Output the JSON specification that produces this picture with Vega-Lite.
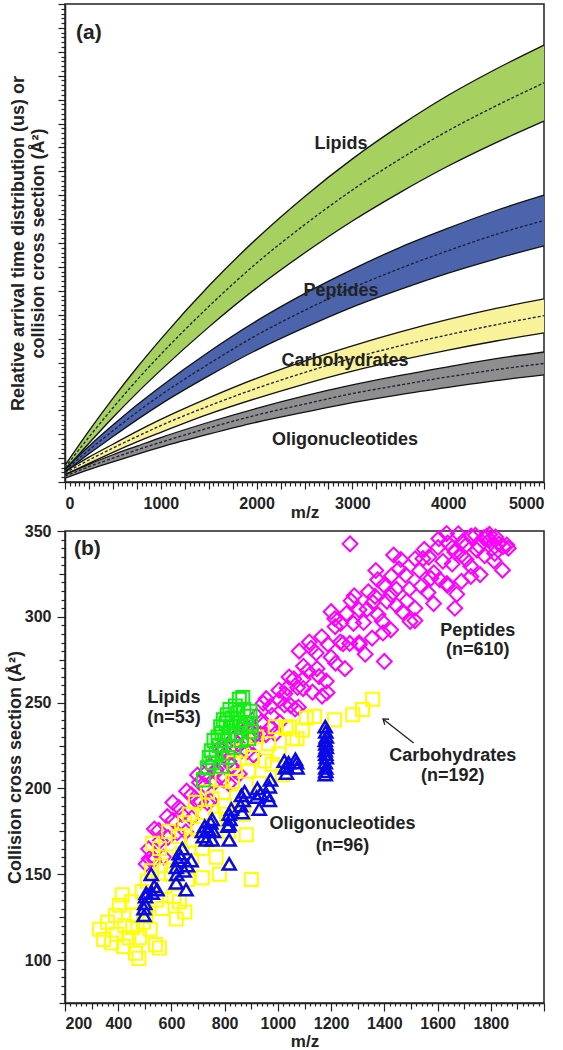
{
  "$schema": "https://vega.github.io/schema/vega-lite/v6.json",
  "padding": {"left": 5, "top": 2, "right": 0, "bottom": 0},
  "spacing": 0,
  "config": {
    "view": {"stroke": "#222", "strokeWidth": 1.5},
    "font": "Liberation Sans",
    "axis": {"domainColor": "#222", "domainWidth": 1.5, "tickColor": "#222", "tickWidth": 1.2, "labelFont": "Liberation Sans", "labelFontWeight": "bold", "labelFontSize": 16, "labelColor": "#222", "titleFont": "Liberation Sans", "titleFontWeight": "bold", "titleFontSize": 17, "titleColor": "#222", "grid": false, "labelOverlap": false, "labelBound": false}
  },
  "datasets": {
    "bands": [
      {"group": "Lipids", "mz": 0, "hi": 3.5, "mid": 3.0, "lo": 2.5},
      {"group": "Lipids", "mz": 250, "hi": 10.7, "mid": 9.4, "lo": 8.1},
      {"group": "Lipids", "mz": 500, "hi": 17.5, "mid": 15.5, "lo": 13.5},
      {"group": "Lipids", "mz": 750, "hi": 23.9, "mid": 21.3, "lo": 18.6},
      {"group": "Lipids", "mz": 1000, "hi": 29.9, "mid": 26.7, "lo": 23.4},
      {"group": "Lipids", "mz": 1500, "hi": 41.0, "mid": 36.7, "lo": 32.4},
      {"group": "Lipids", "mz": 2000, "hi": 50.9, "mid": 45.8, "lo": 40.6},
      {"group": "Lipids", "mz": 2500, "hi": 59.7, "mid": 53.8, "lo": 47.9},
      {"group": "Lipids", "mz": 3000, "hi": 67.6, "mid": 61.1, "lo": 54.6},
      {"group": "Lipids", "mz": 3500, "hi": 74.6, "mid": 67.6, "lo": 60.6},
      {"group": "Lipids", "mz": 4000, "hi": 80.9, "mid": 73.5, "lo": 66.1},
      {"group": "Lipids", "mz": 4500, "hi": 86.4, "mid": 78.7, "lo": 71.0},
      {"group": "Lipids", "mz": 5000, "hi": 91.4, "mid": 83.5, "lo": 75.5},
      {"group": "Peptides", "mz": 0, "hi": 2.8, "mid": 2.4, "lo": 2.0},
      {"group": "Peptides", "mz": 250, "hi": 7.5, "mid": 6.7, "lo": 5.9},
      {"group": "Peptides", "mz": 500, "hi": 11.9, "mid": 10.7, "lo": 9.5},
      {"group": "Peptides", "mz": 750, "hi": 16.1, "mid": 14.6, "lo": 13.0},
      {"group": "Peptides", "mz": 1000, "hi": 20.0, "mid": 18.2, "lo": 16.3},
      {"group": "Peptides", "mz": 1500, "hi": 27.2, "mid": 24.7, "lo": 22.2},
      {"group": "Peptides", "mz": 2000, "hi": 33.7, "mid": 30.7, "lo": 27.6},
      {"group": "Peptides", "mz": 2500, "hi": 39.4, "mid": 35.9, "lo": 32.3},
      {"group": "Peptides", "mz": 3000, "hi": 44.5, "mid": 40.6, "lo": 36.6},
      {"group": "Peptides", "mz": 3500, "hi": 49.1, "mid": 44.7, "lo": 40.3},
      {"group": "Peptides", "mz": 4000, "hi": 53.1, "mid": 48.4, "lo": 43.7},
      {"group": "Peptides", "mz": 4500, "hi": 56.8, "mid": 51.8, "lo": 46.7},
      {"group": "Peptides", "mz": 5000, "hi": 60.0, "mid": 54.7, "lo": 49.4},
      {"group": "Carbohydrates", "mz": 0, "hi": 2.2, "mid": 1.9, "lo": 1.5},
      {"group": "Carbohydrates", "mz": 250, "hi": 5.2, "mid": 4.6, "lo": 3.9},
      {"group": "Carbohydrates", "mz": 500, "hi": 7.9, "mid": 7.1, "lo": 6.2},
      {"group": "Carbohydrates", "mz": 750, "hi": 10.6, "mid": 9.5, "lo": 8.4},
      {"group": "Carbohydrates", "mz": 1000, "hi": 13.1, "mid": 11.8, "lo": 10.4},
      {"group": "Carbohydrates", "mz": 1500, "hi": 17.6, "mid": 15.9, "lo": 14.2},
      {"group": "Carbohydrates", "mz": 2000, "hi": 21.7, "mid": 19.6, "lo": 17.5},
      {"group": "Carbohydrates", "mz": 2500, "hi": 25.3, "mid": 22.9, "lo": 20.5},
      {"group": "Carbohydrates", "mz": 3000, "hi": 28.5, "mid": 25.9, "lo": 23.2},
      {"group": "Carbohydrates", "mz": 3500, "hi": 31.4, "mid": 28.5, "lo": 25.5},
      {"group": "Carbohydrates", "mz": 4000, "hi": 34.0, "mid": 30.8, "lo": 27.6},
      {"group": "Carbohydrates", "mz": 4500, "hi": 36.3, "mid": 32.9, "lo": 29.5},
      {"group": "Carbohydrates", "mz": 5000, "hi": 38.3, "mid": 34.8, "lo": 31.2},
      {"group": "Oligonucleotides", "mz": 0, "hi": 1.6, "mid": 1.2, "lo": 0.8},
      {"group": "Oligonucleotides", "mz": 250, "hi": 3.7, "mid": 3.2, "lo": 2.6},
      {"group": "Oligonucleotides", "mz": 500, "hi": 5.7, "mid": 5.0, "lo": 4.2},
      {"group": "Oligonucleotides", "mz": 750, "hi": 7.5, "mid": 6.7, "lo": 5.8},
      {"group": "Oligonucleotides", "mz": 1000, "hi": 9.3, "mid": 8.3, "lo": 7.3},
      {"group": "Oligonucleotides", "mz": 1500, "hi": 12.5, "mid": 11.3, "lo": 10.0},
      {"group": "Oligonucleotides", "mz": 2000, "hi": 15.4, "mid": 14.0, "lo": 12.5},
      {"group": "Oligonucleotides", "mz": 2500, "hi": 18.0, "mid": 16.3, "lo": 14.6},
      {"group": "Oligonucleotides", "mz": 3000, "hi": 20.3, "mid": 18.5, "lo": 16.6},
      {"group": "Oligonucleotides", "mz": 3500, "hi": 22.3, "mid": 20.3, "lo": 18.3},
      {"group": "Oligonucleotides", "mz": 4000, "hi": 24.1, "mid": 22.0, "lo": 19.8},
      {"group": "Oligonucleotides", "mz": 4500, "hi": 25.8, "mid": 23.5, "lo": 21.2},
      {"group": "Oligonucleotides", "mz": 5000, "hi": 27.2, "mid": 24.8, "lo": 22.4}
    ],
    "aLab": [
      {"t": "Lipids", "mz": 2881, "v": 70.7},
      {"t": "Peptides", "mz": 2881, "v": 40.0},
      {"t": "Carbohydrates", "mz": 2923, "v": 25.3},
      {"t": "Oligonucleotides", "mz": 2923, "v": 8.8}
    ],
    "aTag": [{"t": "(a)", "mz": 115, "v": 93.9}],
    "bTag": [{"t": "(b)", "mz": 234, "ccs": 339.5}],
    "bLab": [
      {"t": "Lipids", "mz": 610, "ccs": 252.7},
      {"t": "(n=53)", "mz": 610, "ccs": 241.0},
      {"t": "Peptides", "mz": 1751, "ccs": 291.7},
      {"t": "(n=610)", "mz": 1751, "ccs": 280.7},
      {"t": "Carbohydrates", "mz": 1657, "ccs": 218.9},
      {"t": "(n=192)", "mz": 1657, "ccs": 207.3},
      {"t": "Oligonucleotides", "mz": 1243, "ccs": 179.3},
      {"t": "(n=96)", "mz": 1243, "ccs": 166.5}
    ],
    "arrow": [{"x1": 1510, "y1": 226.5, "x2": 1395, "y2": 240.5}],
    "pep": [
      {"mz":505,"ccs":156},{"mz":514,"ccs":164.8},{"mz":517,"ccs":159.0},{"mz":536,"ccs":176.4},{"mz":535,"ccs":158.6},{"mz":552,"ccs":175.6},{"mz":558,"ccs":169.6},{"mz":570,"ccs":160},{"mz":584,"ccs":183.6},{"mz":587,"ccs":171.4},
      {"mz":606,"ccs":181.5},{"mz":605,"ccs":191.8},{"mz":622,"ccs":174.2},{"mz":628,"ccs":188.9},{"mz":640,"ccs":184.8},{"mz":654,"ccs":174.7},{"mz":657,"ccs":198.4},{"mz":676,"ccs":182.8},{"mz":675,"ccs":196.3},{"mz":692,"ccs":193.1},
      {"mz":698,"ccs":207.8},{"mz":710,"ccs":192.3},{"mz":724,"ccs":208.3},{"mz":727,"ccs":201.6},{"mz":746,"ccs":192.8},{"mz":745,"ccs":213.5},{"mz":762,"ccs":203.5},{"mz":768,"ccs":211.0},{"mz":780,"ccs":223.4},{"mz":794,"ccs":205},
      {"mz":797,"ccs":219.1},{"mz":816,"ccs":215.8},{"mz":815,"ccs":202.8},{"mz":832,"ccs":228.7},{"mz":838,"ccs":210.5},{"mz":850,"ccs":226},{"mz":864,"ccs":221.8},{"mz":867,"ccs":235.9},{"mz":886,"ccs":221.4},{"mz":885,"ccs":234.8},
      {"mz":902,"ccs":230.3},{"mz":908,"ccs":219.4},{"mz":920,"ccs":242.2},{"mz":934,"ccs":231.8},{"mz":937,"ccs":238.7},{"mz":956,"ccs":252.3},{"mz":955,"ccs":231.4},{"mz":972,"ccs":247.8},{"mz":978,"ccs":242.5},{"mz":990,"ccs":231.7},
      {"mz":1004,"ccs":257.2},{"mz":1007,"ccs":238.5},{"mz":1026,"ccs":255.2},{"mz":1025,"ccs":248.6},{"mz":1042,"ccs":264.9},{"mz":1048,"ccs":248.3},{"mz":1060,"ccs":263.8},{"mz":1074,"ccs":258.8},{"mz":1077,"ccs":247.3},{"mz":1096,"ccs":271.2},
      {"mz":1095,"ccs":258.2},{"mz":1112,"ccs":268.6},{"mz":1118,"ccs":285.3},{"mz":1130,"ccs":256.1},{"mz":1144,"ccs":278.9},{"mz":1147,"ccs":269.8},{"mz":1166,"ccs":253.8},{"mz":1165,"ccs":288.4},{"mz":1182,"ccs":262.5},{"mz":1188,"ccs":284},
      {"mz":1200,"ccs":276.4},{"mz":1214,"ccs":298.9},{"mz":1217,"ccs":273},{"mz":1236,"ccs":296.2},{"mz":1235,"ccs":285.3},{"mz":1252,"ccs":269.8},{"mz":1258,"ccs":301.9},{"mz":1270,"ccs":284.5},{"mz":1284,"ccs":296.2},{"mz":1287,"ccs":312.3},
      {"mz":1306,"ccs":283.8},{"mz":1305,"ccs":304.1},{"mz":1322,"ccs":296.7},{"mz":1328,"ccs":278.2},{"mz":1340,"ccs":314.6},{"mz":1354,"ccs":287.6},{"mz":1357,"ccs":308.4},{"mz":1376,"ccs":301.3},{"mz":1375,"ccs":321.6},{"mz":1392,"ccs":297.4},
      {"mz":1398,"ccs":318.5},{"mz":1410,"ccs":309},{"mz":1424,"ccs":292.4},{"mz":1427,"ccs":323.9},{"mz":1446,"ccs":306.6},{"mz":1445,"ccs":316.1},{"mz":1462,"ccs":333.4},{"mz":1468,"ccs":302.8},{"mz":1480,"ccs":324.4},{"mz":1494,"ccs":316.2},
      {"mz":1497,"ccs":297.3},{"mz":1516,"ccs":333.8},{"mz":1515,"ccs":305},{"mz":1532,"ccs":326.9},{"mz":1538,"ccs":317.8},{"mz":1550,"ccs":339.3},{"mz":1564,"ccs":314.2},{"mz":1567,"ccs":334.8},{"mz":1586,"ccs":325.7},{"mz":1585,"ccs":307.7},
      {"mz":1602,"ccs":340.4},{"mz":1608,"ccs":321.7},{"mz":1620,"ccs":332.4},{"mz":1634,"ccs":348.5},{"mz":1637,"ccs":318.3},{"mz":1656,"ccs":340.4},{"mz":1655,"ccs":330.8},{"mz":1672,"ccs":313.1},{"mz":1678,"ccs":348.4},{"mz":1690,"ccs":320.7},
      {"mz":1704,"ccs":341.2},{"mz":1707,"ccs":333.4},{"mz":1726,"ccs":347},{"mz":1725,"ccs":329.5},{"mz":1742,"ccs":347.5},{"mz":1748,"ccs":338.9},{"mz":1760,"ccs":324.6},{"mz":1774,"ccs":346},{"mz":1777,"ccs":335.6},{"mz":1796,"ccs":344.8},
      {"mz":1795,"ccs":348},{"mz":1812,"ccs":332.6},{"mz":1818,"ccs":346.5},{"mz":1830,"ccs":342.5},{"mz":1844,"ccs":327.2},{"mz":1847,"ccs":341},{"mz":1866,"ccs":340},
      {"mz":1271,"ccs":342.5},{"mz":1665,"ccs":305},{"mz":1400,"ccs":274},{"mz":1080,"ccs":280},{"mz":1200,"ccs":303},{"mz":1435,"ccs":336},{"mz":1368,"ccs":327},{"mz":1691,"ccs":336},{"mz":1638,"ccs":343},{"mz":1815,"ccs":341},{"mz":1860,"ccs":341.8},
      {"mz":705,"ccs":203.5},{"mz":735,"ccs":191.7},{"mz":765,"ccs":209.6},{"mz":795,"ccs":222.8},{"mz":825,"ccs":213.2},{"mz":855,"ccs":208.4},{"mz":885,"ccs":235.6},{"mz":915,"ccs":231},{"mz":945,"ccs":249.7},{"mz":975,"ccs":235.6},
      {"mz":1005,"ccs":251.6},{"mz":1035,"ccs":258.6},{"mz":1065,"ccs":246.3},{"mz":1095,"ccs":263.8},{"mz":1125,"ccs":281.7},{"mz":1155,"ccs":265.2},{"mz":1185,"ccs":255.9},{"mz":1215,"ccs":294.3},{"mz":1245,"ccs":284.4},{"mz":1275,"ccs":309.3},
      {"mz":1305,"ccs":284.9},{"mz":1335,"ccs":304.4},{"mz":1365,"ccs":311.9},{"mz":1395,"ccs":290.6},{"mz":1425,"ccs":312.9},{"mz":1455,"ccs":327.9},{"mz":1485,"ccs":309.3},{"mz":1515,"ccs":297.8},{"mz":1545,"ccs":333.9},{"mz":1575,"ccs":322.4},
      {"mz":1605,"ccs":345.5},{"mz":1635,"ccs":319.4},{"mz":1665,"ccs":337.7},{"mz":1695,"ccs":344},{"mz":1725,"ccs":323.5},{"mz":1755,"ccs":341.3},{"mz":1785,"ccs":347},{"mz":1815,"ccs":336.9}
    ],
    "carb": [
      {"mz":330,"ccs":118},{"mz":345,"ccs":112},{"mz":360,"ccs":122},{"mz":375,"ccs":110},{"mz":390,"ccs":126},{"mz":395,"ccs":115},{"mz":405,"ccs":132},{"mz":415,"ccs":138},{"mz":420,"ccs":108},{"mz":425,"ccs":120},
      {"mz":440,"ccs":113},{"mz":450,"ccs":134},{"mz":455,"ccs":119},{"mz":465,"ccs":104},{"mz":470,"ccs":126},{"mz":478,"ccs":101},{"mz":480,"ccs":113},{"mz":490,"ccs":140},{"mz":495,"ccs":122},{"mz":500,"ccs":131},
      {"mz":505,"ccs":127},{"mz":510,"ccs":146},{"mz":520,"ccs":118},{"mz":525,"ccs":152},{"mz":530,"ccs":168},{"mz":540,"ccs":109},{"mz":545,"ccs":135},{"mz":555,"ccs":107},{"mz":555,"ccs":165},{"mz":560,"ccs":155},
      {"mz":565,"ccs":130},{"mz":575,"ccs":143},{"mz":580,"ccs":160},{"mz":590,"ccs":175},{"mz":600,"ccs":150},{"mz":610,"ccs":137},{"mz":618,"ccs":124},{"mz":625,"ccs":172},{"mz":630,"ccs":134},{"mz":640,"ccs":162},
      {"mz":650,"ccs":180},{"mz":650,"ccs":128},{"mz":660,"ccs":147},{"mz":667,"ccs":185},{"mz":675,"ccs":158},{"mz":680,"ccs":170},{"mz":690,"ccs":192},{"mz":700,"ccs":176},{"mz":716,"ccs":148},{"mz":716,"ccs":165},
      {"mz":725,"ccs":186},{"mz":735,"ccs":198},{"mz":745,"ccs":170},{"mz":753,"ccs":194},{"mz":765,"ccs":182},{"mz":768,"ccs":160},{"mz":780,"ccs":150},{"mz":790,"ccs":205},{"mz":800,"ccs":190},{"mz":806,"ccs":185},
      {"mz":815,"ccs":175},{"mz":829,"ccs":204},{"mz":835,"ccs":215},{"mz":845,"ccs":195},{"mz":860,"ccs":222},{"mz":870,"ccs":185},{"mz":881,"ccs":173},{"mz":890,"ccs":210},{"mz":900,"ccs":147},{"mz":904,"ccs":218},
      {"mz":920,"ccs":230},{"mz":930,"ccs":203},{"mz":950,"ccs":216},{"mz":965,"ccs":226},{"mz":979,"ccs":214},{"mz":990,"ccs":236},{"mz":1005,"ccs":220},{"mz":1017,"ccs":208},{"mz":1030,"ccs":235},{"mz":1043,"ccs":236},
      {"mz":1055,"ccs":229},{"mz":1072,"ccs":229},{"mz":1092,"ccs":234},{"mz":1107,"ccs":241},{"mz":1138,"ccs":242},{"mz":1213,"ccs":240},{"mz":1281,"ccs":243},{"mz":1318,"ccs":246},{"mz":1356,"ccs":252}
    ],
    "lip": [
      {"mz":720,"ccs":205},{"mz":735,"ccs":212},{"mz":742,"ccs":218},{"mz":750,"ccs":222},{"mz":755,"ccs":215},{"mz":760,"ccs":228},{"mz":768,"ccs":220},{"mz":775,"ccs":230},{"mz":780,"ccs":225},{"mz":785,"ccs":236},
      {"mz":790,"ccs":232},{"mz":790,"ccs":213},{"mz":795,"ccs":240},{"mz":800,"ccs":228},{"mz":805,"ccs":238},{"mz":810,"ccs":243},{"mz":812,"ccs":218},{"mz":815,"ccs":232},{"mz":820,"ccs":246},{"mz":822,"ccs":236},
      {"mz":828,"ccs":241},{"mz":835,"ccs":224},{"mz":840,"ccs":248},{"mz":845,"ccs":232},{"mz":850,"ccs":244},{"mz":855,"ccs":252},{"mz":860,"ccs":238},{"mz":862,"ccs":228},{"mz":868,"ccs":253},{"mz":872,"ccs":246},
      {"mz":880,"ccs":236},{"mz":885,"ccs":242},{"mz":890,"ccs":229},{"mz":895,"ccs":245},{"mz":898,"ccs":238},{"mz":900,"ccs":233}
    ],
    "oli": [
      {"mz":497,"ccs":126},{"mz":497,"ccs":130},{"mz":500,"ccs":133},{"mz":503,"ccs":137},{"mz":505,"ccs":139},{"mz":524,"ccs":150},{"mz":528,"ccs":139},{"mz":535,"ccs":143},{"mz":546,"ccs":141},{"mz":618,"ccs":145},
      {"mz":620,"ccs":150},{"mz":618,"ccs":154},{"mz":625,"ccs":158},{"mz":629,"ccs":162},{"mz":635,"ccs":160},{"mz":641,"ccs":165},{"mz":648,"ccs":152},{"mz":655,"ccs":141},{"mz":660,"ccs":155},{"mz":674,"ccs":158},
      {"mz":716,"ccs":175},{"mz":720,"ccs":172},{"mz":725,"ccs":178},{"mz":731,"ccs":170},{"mz":740,"ccs":176},{"mz":748,"ccs":180},{"mz":753,"ccs":182},{"mz":753,"ccs":170},{"mz":758,"ccs":175},{"mz":812,"ccs":178},
      {"mz":817,"ccs":185},{"mz":817,"ccs":179},{"mz":817,"ccs":170},{"mz":820,"ccs":182},{"mz":825,"ccs":188},{"mz":817,"ccs":156},{"mz":860,"ccs":190},{"mz":863,"ccs":196},{"mz":866,"ccs":186},{"mz":870,"ccs":193},
      {"mz":875,"ccs":198},{"mz":920,"ccs":195},{"mz":923,"ccs":200},{"mz":930,"ccs":188},{"mz":935,"ccs":197},{"mz":960,"ccs":196},{"mz":968,"ccs":193},{"mz":968,"ccs":201},{"mz":972,"ccs":205},{"mz":1024,"ccs":216},
      {"mz":1028,"ccs":212},{"mz":1032,"ccs":213},{"mz":1032,"ccs":209},{"mz":1040,"ccs":215},{"mz":1066,"ccs":217},{"mz":1070,"ccs":215},{"mz":1072,"ccs":212},{"mz":1178,"ccs":208},{"mz":1180,"ccs":212},{"mz":1178,"ccs":215},
      {"mz":1182,"ccs":218},{"mz":1180,"ccs":220},{"mz":1178,"ccs":222},{"mz":1182,"ccs":224},{"mz":1180,"ccs":226},{"mz":1178,"ccs":228},{"mz":1182,"ccs":230},{"mz":1180,"ccs":233},{"mz":1178,"ccs":236},{"mz":1180,"ccs":210}
    ]
  },
  "vconcat": [
    {
      "width": 479,
      "height": 478,
      "resolve": {"axis": {"x": "independent", "y": "independent"}},
      "layer": [
        {
          "data": {"name": "bands"},
          "mark": {"type": "area", "interpolate": "monotone", "opacity": 1},
          "encoding": {
            "x": {"field": "mz", "type": "quantitative", "scale": {"domain": [0, 5000], "nice": false},
              "axis": {"title": "m/z", "titleY": 22, "format": "d", "labelPadding": 6,
                "values": [0,50,100,150,200,250,300,350,400,450,500,550,600,650,700,750,800,850,900,950,1000,1050,1100,1150,1200,1250,1300,1350,1400,1450,1500,1550,1600,1650,1700,1750,1800,1850,1900,1950,2000,2050,2100,2150,2200,2250,2300,2350,2400,2450,2500,2550,2600,2650,2700,2750,2800,2850,2900,2950,3000,3050,3100,3150,3200,3250,3300,3350,3400,3450,3500,3550,3600,3650,3700,3750,3800,3850,3900,3950,4000,4050,4100,4150,4200,4250,4300,4350,4400,4450,4500,4550,4600,4650,4700,4750,4800,4850,4900,4950,5000],
                "tickSize": {"condition": {"test": "datum.value % 250 === 0", "value": 7}, "value": 4},
                "labelExpr": "datum.value % 1000 === 0 ? datum.label : ''"}},
            "y": {"field": "hi", "type": "quantitative", "scale": {"domain": [0, 100], "nice": false},
              "axis": {"title": ["Relative arrival time distribution (us) or", "collision cross section (Å²)"], "titleFontSize": 18, "titleLineHeight": 20, "titlePadding": 10, "labels": false,
                "values": [0,1,2,3,4,5,6,7,8,9,10,11,12,13,14,15,16,17,18,19,20,21,22,23,24,25,26,27,28,29,30,31,32,33,34,35,36,37,38,39,40,41,42,43,44,45,46,47,48,49,50,51,52,53,54,55,56,57,58,59,60,61,62,63,64,65,66,67,68,69,70,71,72,73,74,75,76,77,78,79,80,81,82,83,84,85,86,87,88,89,90,91,92,93,94,95,96,97,98,99,100],
                "tickSize": {"condition": {"test": "datum.value % 5 === 0", "value": 7}, "value": 4}}},
            "y2": {"field": "lo"},
            "color": {"field": "group", "type": "nominal", "legend": null,
              "scale": {"domain": ["Lipids", "Peptides", "Carbohydrates", "Oligonucleotides"], "range": ["#a6d160", "#4b64ab", "#f8f29a", "#8e8e8e"]}}
          }
        },
        {
          "data": {"name": "bands"},
          "mark": {"type": "line", "interpolate": "monotone", "color": "#111", "strokeWidth": 1.3},
          "encoding": {
            "x": {"field": "mz", "type": "quantitative", "axis": null},
            "y": {"field": "hi", "type": "quantitative", "axis": null},
            "detail": {"field": "group"}
          }
        },
        {
          "data": {"name": "bands"},
          "mark": {"type": "line", "interpolate": "monotone", "color": "#111", "strokeWidth": 1.3},
          "encoding": {
            "x": {"field": "mz", "type": "quantitative", "axis": null},
            "y": {"field": "lo", "type": "quantitative", "axis": null},
            "detail": {"field": "group"}
          }
        },
        {
          "data": {"name": "bands"},
          "mark": {"type": "line", "interpolate": "monotone", "color": "#1a1f35", "strokeWidth": 1.3, "strokeDash": [3, 2]},
          "encoding": {
            "x": {"field": "mz", "type": "quantitative", "axis": null},
            "y": {"field": "mid", "type": "quantitative", "axis": null},
            "detail": {"field": "group"}
          }
        },
        {
          "data": {"name": "aLab"},
          "mark": {"type": "text", "font": "Liberation Sans", "fontSize": 18, "fontWeight": "bold", "color": "#222", "align": "center", "baseline": "middle"},
          "encoding": {
            "x": {"field": "mz", "type": "quantitative", "axis": null},
            "y": {"field": "v", "type": "quantitative", "axis": null},
            "text": {"field": "t"}
          }
        },
        {
          "data": {"name": "aTag"},
          "mark": {"type": "text", "font": "Liberation Sans", "fontSize": 21, "fontWeight": "bold", "color": "#222", "align": "left", "baseline": "middle"},
          "encoding": {
            "x": {"field": "mz", "type": "quantitative", "axis": null},
            "y": {"field": "v", "type": "quantitative", "axis": null},
            "text": {"field": "t"}
          }
        }
      ]
    },
    {
      "width": 479,
      "height": 472,
      "resolve": {"axis": {"x": "independent", "y": "independent"}},
      "layer": [
        {
          "data": {"name": "pep"},
          "mark": {"type": "point", "shape": "diamond", "filled": false, "color": "#ff00ff", "strokeWidth": 2, "size": 220, "opacity": 1},
          "encoding": {
            "x": {"field": "mz", "type": "quantitative", "scale": {"domain": [200, 2000], "nice": false},
              "axis": {"title": "m/z", "titleY": 30, "labelPadding": 4,
                "values": [200,220,240,260,280,300,320,340,360,380,400,420,440,460,480,500,520,540,560,580,600,620,640,660,680,700,720,740,760,780,800,820,840,860,880,900,920,940,960,980,1000,1020,1040,1060,1080,1100,1120,1140,1160,1180,1200,1220,1240,1260,1280,1300,1320,1340,1360,1380,1400,1420,1440,1460,1480,1500,1520,1540,1560,1580,1600,1620,1640,1660,1680,1700,1720,1740,1760,1780,1800,1820,1840,1860,1880,1900,1920,1940,1960,1980,2000],
                "tickSize": {"condition": [{"test": "datum.value % 200 === 0", "value": 8}, {"test": "datum.value % 100 === 0", "value": 6}], "value": 3},
                "labelExpr": "(datum.value % 200 === 0 && datum.value < 2000) ? datum.label : ''", "format": "d"}},
            "y": {"field": "ccs", "type": "quantitative", "scale": {"domain": [75, 350], "nice": false},
              "axis": {"title": "Collision cross section (Å²)", "titleFontSize": 18, "titlePadding": 0, "labelPadding": 6,
                "values": [75,80,85,90,95,100,105,110,115,120,125,130,135,140,145,150,155,160,165,170,175,180,185,190,195,200,205,210,215,220,225,230,235,240,245,250,255,260,265,270,275,280,285,290,295,300,305,310,315,320,325,330,335,340,345,350],
                "tickSize": {"condition": [{"test": "datum.value % 50 === 0", "value": 8}, {"test": "datum.value % 25 === 0", "value": 6}], "value": 4},
                "labelExpr": "datum.value % 50 === 0 ? datum.label : ''"}}
          }
        },
        {
          "data": {"name": "carb"},
          "mark": {"type": "point", "shape": "square", "filled": false, "color": "#ffff00", "strokeWidth": 2, "size": 170, "opacity": 1},
          "encoding": {
            "x": {"field": "mz", "type": "quantitative", "axis": null},
            "y": {"field": "ccs", "type": "quantitative", "axis": null}
          }
        },
        {
          "data": {"name": "lip"},
          "mark": {"type": "point", "shape": "square", "filled": false, "color": "#11ee11", "strokeWidth": 2, "size": 170, "opacity": 1},
          "encoding": {
            "x": {"field": "mz", "type": "quantitative", "axis": null},
            "y": {"field": "ccs", "type": "quantitative", "axis": null}
          }
        },
        {
          "data": {"name": "oli"},
          "mark": {"type": "point", "shape": "triangle-up", "filled": false, "color": "#0a0ae6", "strokeWidth": 2.5, "size": 170, "opacity": 1},
          "encoding": {
            "x": {"field": "mz", "type": "quantitative", "axis": null},
            "y": {"field": "ccs", "type": "quantitative", "axis": null}
          }
        },
        {
          "data": {"name": "bLab"},
          "mark": {"type": "text", "font": "Liberation Sans", "fontSize": 18, "fontWeight": "bold", "color": "#222", "align": "center", "baseline": "middle"},
          "encoding": {
            "x": {"field": "mz", "type": "quantitative", "axis": null},
            "y": {"field": "ccs", "type": "quantitative", "axis": null},
            "text": {"field": "t"}
          }
        },
        {
          "data": {"name": "bTag"},
          "mark": {"type": "text", "font": "Liberation Sans", "fontSize": 21, "fontWeight": "bold", "color": "#222", "align": "left", "baseline": "middle"},
          "encoding": {
            "x": {"field": "mz", "type": "quantitative", "axis": null},
            "y": {"field": "ccs", "type": "quantitative", "axis": null},
            "text": {"field": "t"}
          }
        },
        {
          "data": {"name": "arrow"},
          "mark": {"type": "rule", "color": "#222", "strokeWidth": 1.3},
          "encoding": {
            "x": {"field": "x1", "type": "quantitative", "axis": null},
            "y": {"field": "y1", "type": "quantitative", "axis": null},
            "x2": {"field": "x2"},
            "y2": {"field": "y2"}
          }
        },
        {
          "data": {"name": "arrow"},
          "mark": {"type": "point", "shape": "M -1 -0.7 L 0 0 L -1 0.7", "filled": false, "color": "#222", "strokeWidth": 1.3, "size": 100, "angle": 218, "opacity": 1},
          "encoding": {
            "x": {"field": "x2", "type": "quantitative", "axis": null},
            "y": {"field": "y2", "type": "quantitative", "axis": null}
          }
        }
      ]
    }
  ]
}
